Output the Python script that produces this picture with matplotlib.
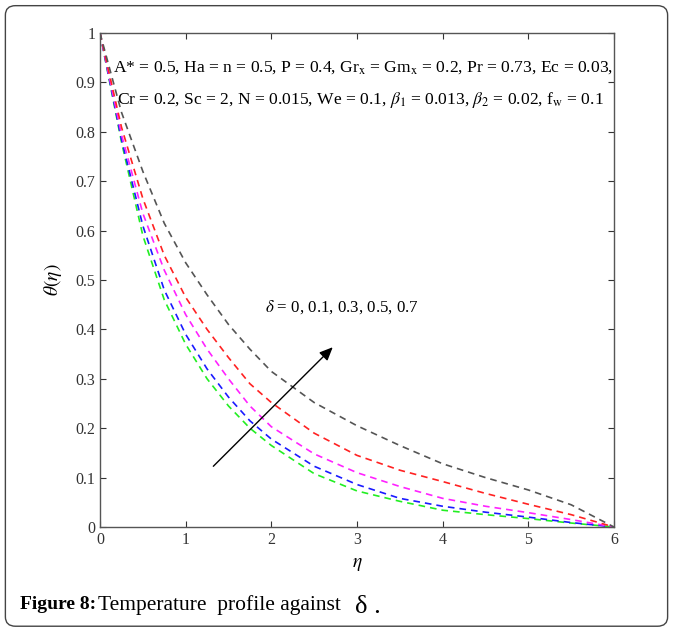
import matplotlib
matplotlib.use("Agg")
import matplotlib.pyplot as plt
from matplotlib.patches import FancyBboxPatch

plt.rcParams['font.family'] = ['Liberation Serif', 'DejaVu Serif']
plt.rcParams['mathtext.fontset'] = 'stix'

# values
eta = [0, 0.25, 0.5, 0.75, 1, 1.25, 1.5, 1.75, 2, 2.5, 3, 3.5, 4, 4.5, 5, 5.5, 6]
theta_d0 = [1, 0.78, 0.59, 0.46, 0.37, 0.30, 0.245, 0.2, 0.165, 0.108, 0.073, 0.052, 0.034, 0.025, 0.017, 0.008, 0]
theta_d01 = [1, 0.785, 0.61, 0.48, 0.39, 0.32, 0.263, 0.215, 0.178, 0.123, 0.086, 0.058, 0.042, 0.03, 0.02, 0.009, 0]
theta_d03 = [1, 0.795, 0.635, 0.52, 0.43, 0.36, 0.30, 0.245, 0.203, 0.148, 0.11, 0.082, 0.058, 0.042, 0.029, 0.015, 0]
theta_d05 = [1, 0.81, 0.665, 0.55, 0.465, 0.40, 0.343, 0.29, 0.252, 0.19, 0.145, 0.115, 0.092, 0.068, 0.046, 0.025, 0]
theta_d07 = [1, 0.84, 0.72, 0.615, 0.535, 0.47, 0.41, 0.36, 0.315, 0.252, 0.205, 0.165, 0.128, 0.10, 0.075, 0.045, 0]

series = [theta_d0, theta_d01, theta_d03, theta_d05, theta_d07]
colors = ['#22ee22', '#1a1aff', '#ff22ff', '#ff2222', '#555555']

fig = plt.figure(figsize=(6.73, 6.3), dpi=100)
ax = fig.add_axes([0.1486, 0.1635, 0.7637, 0.784])

for ys, c in zip(series, colors):
    ax.plot(eta, ys, color=c, linestyle=(0, (4, 3)), linewidth=1.2)

ax.set_xlim(0, 6)
ax.set_ylim(0, 1)
ax.set_xticks(range(7))
ax.set_yticks([i / 10 for i in range(11)])
ax.set_yticklabels(['0', '0.1', '0.2', '0.3', '0.4', '0.5', '0.6', '0.7', '0.8', '0.9', '1'])
ax.tick_params(direction='in', top=True, right=True, labelsize=11.5, colors='#333333', length=4)
for s in ax.spines.values():
    s.set_color('#555555')
    s.set_linewidth(1.0)

ax.set_xlabel(r'$\eta$', fontsize=14, labelpad=6)
ax.set_ylabel(r'$\theta(\eta)$', fontsize=14, labelpad=8)

ax.text(0.15, 0.931, r'A* = 0.5, Ha = n = 0.5, P = 0.4, Gr$_{\mathrm{x}}$ = Gm$_{\mathrm{x}}$ = 0.2, Pr = 0.73, Ec = 0.03,',
        fontsize=12.6, va='center', ha='left')
ax.text(0.2, 0.864, r'Cr = 0.2, Sc = 2, N = 0.015, We = 0.1, $\beta_1$ = 0.013, $\beta_2$ = 0.02, f$_{\mathrm{w}}$ = 0.1',
        fontsize=12.6, va='center', ha='left')

ax.annotate('', xy=(2.74, 0.368), xytext=(1.30, 0.119),
            arrowprops=dict(arrowstyle='-|>,head_length=0.8,head_width=0.35', color='black', lw=1.0))
ax.text(1.93, 0.445, r'$\delta$ = 0, 0.1, 0.3, 0.5, 0.7', fontsize=12.2, va='center', ha='left')

# outer frame and caption
frame = FancyBboxPatch((0.008, 0.006), 0.984, 0.985, boxstyle='round,pad=0,rounding_size=0.015',
                       transform=fig.transFigure, fill=False, edgecolor='#444444', linewidth=1.0)
fig.patches.append(frame)
fig.text(0.03, 0.04, 'Figure 8:', fontsize=14, fontweight='bold', va='center', ha='left')
fig.text(0.145, 0.04, 'Temperature  profile against', fontsize=15.5, va='center', ha='left')
fig.text(0.528, 0.036, 'δ .', fontsize=19, va='center', ha='left')

fig.savefig('out.png', dpi=100)
